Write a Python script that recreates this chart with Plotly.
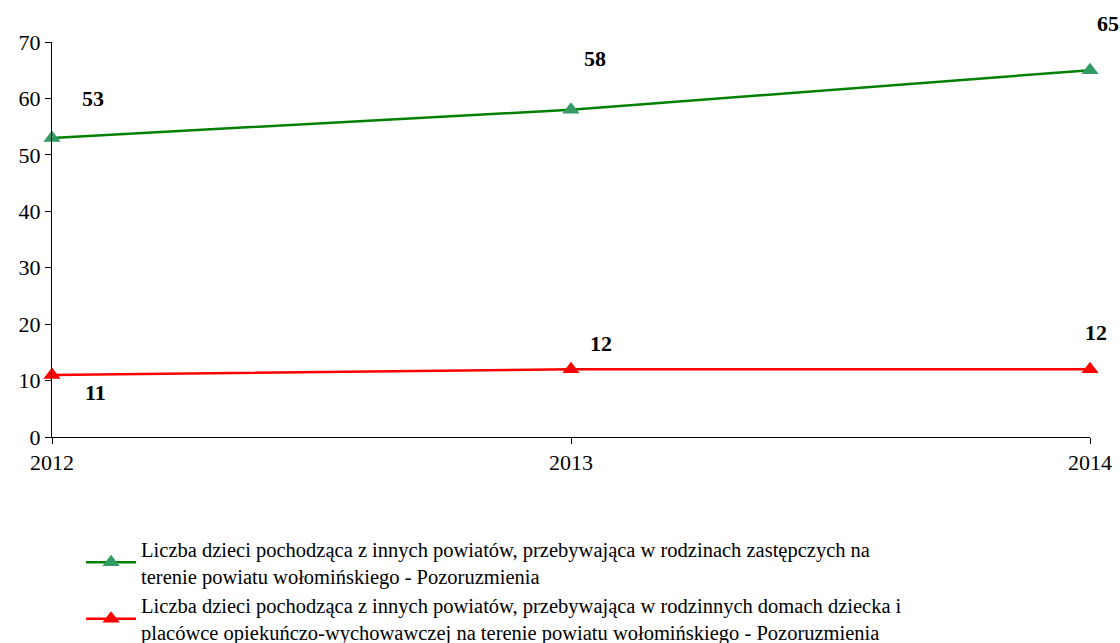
import plotly.graph_objects as go

years = [2012, 2013, 2014]
s1_name = "Liczba dzieci pochodząca z innych powiatów, przebywająca w rodzinach zastępczych na<br>terenie powiatu wołomińskiego - Pozoruzmienia"
s1_vals = [53, 58, 65]
s2_name = "Liczba dzieci pochodząca z innych powiatów, przebywająca w rodzinnych domach dziecka i<br>placówce opiekuńczo-wychowawczej na terenie powiatu wołomińskiego - Pozoruzmienia"
s2_vals = [11, 12, 12]
y_ticks = [0, 10, 20, 30, 40, 50, 60, 70]

FONT = "Liberation Serif, Times New Roman, serif"

fig = go.Figure()
fig.add_trace(go.Scatter(x=years, y=s1_vals, name=s1_name, mode="lines+markers",
                         line=dict(color="#008000", width=2.5),
                         marker=dict(symbol="triangle-up", size=15, color="#339966"),
                         cliponaxis=False))
fig.add_trace(go.Scatter(x=years, y=s2_vals, name=s2_name, mode="lines+markers",
                         line=dict(color="#FF0000", width=2.5),
                         marker=dict(symbol="triangle-up", size=15, color="#FF0000"),
                         cliponaxis=False))

# data labels offsets (pixels)
s1_shift = [(41, 39), (24, 51), (18, 47)]
s2_shift = [(43, -18), (30, 26), (6, 37)]
for xv, yv, (dx, dy) in zip(years, s1_vals, s1_shift):
    fig.add_annotation(x=xv, y=yv, text=f"<b>{yv}</b>", showarrow=False, xshift=dx, yshift=dy,
                       font=dict(family=FONT, size=22, color="black"))
for xv, yv, (dx, dy) in zip(years, s2_vals, s2_shift):
    fig.add_annotation(x=xv, y=yv, text=f"<b>{yv}</b>", showarrow=False, xshift=dx, yshift=dy,
                       font=dict(family=FONT, size=22, color="black"))

fig.update_layout(
    width=1120, height=643,
    margin=dict(l=52, r=30, t=42, b=206),
    paper_bgcolor="white", plot_bgcolor="white",
    font=dict(family=FONT, size=22, color="black"),
    showlegend=True,
    legend=dict(x=0.028, y=0.177, xref="paper", yref="container", xanchor="left", yanchor="top",
                font=dict(family=FONT, size=20.5, color="black"),
                itemwidth=50, tracegroupgap=0, bgcolor="rgba(0,0,0,0)"),
    xaxis=dict(range=[2012, 2014], tickvals=years, ticktext=[str(y) for y in years],
               automargin=False,
               showgrid=False, zeroline=False, showline=True, linecolor="black", linewidth=1,
               ticks="outside", ticklen=6, tickcolor="black", tickfont=dict(size=22)),
    yaxis=dict(range=[0, 70], tickvals=y_ticks, showgrid=False, zeroline=False,
               automargin=False,
               showline=True, linecolor="black", linewidth=1,
               ticks="outside", ticklen=6, tickcolor="black", tickfont=dict(size=22)),
)

fig.write_html("out.html", config={"displayModeBar": False},
               post_script="document.body.style.margin='0';document.body.style.overflow='hidden';")
